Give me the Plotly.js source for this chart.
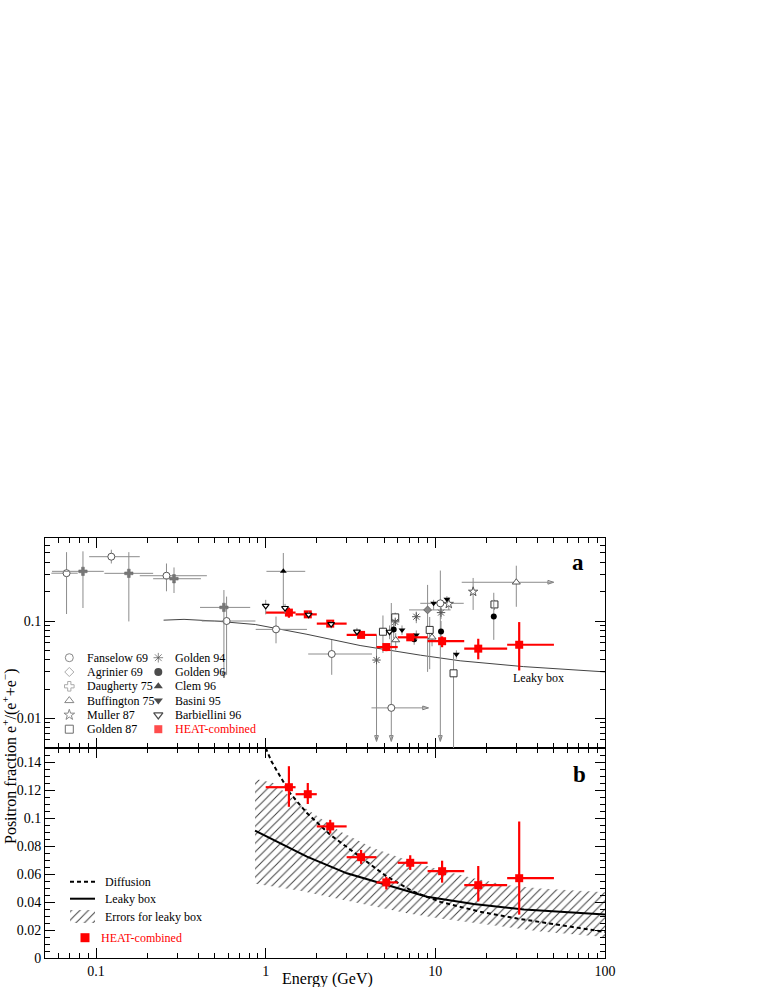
<!DOCTYPE html>
<html><head><meta charset="utf-8">
<script src="https://cdn.plot.ly/plotly-3.0.1.min.js"></script>
<style>body{margin:0;background:#fff}#chart{width:763px;height:987px}</style>
</head><body><div id="chart"></div>
<script>
// ---------------- DATA ----------------
// HEAT-combined (both panels)
const heatE   = [1.37, 1.77, 2.40, 3.65, 5.14, 7.11, 10.96, 17.9, 31.2];
const heatF   = [0.122, 0.117, 0.094, 0.072, 0.054, 0.068, 0.062, 0.052, 0.057];
const heatFhi = [0.137, 0.125, 0.0987, 0.0772, 0.058, 0.0734, 0.0695, 0.0657, 0.0975];
const heatFlo = [0.108, 0.110, 0.089, 0.0672, 0.049, 0.0629, 0.0538, 0.0404, 0.031];
const heatElo = [1.0, 1.5, 2.0, 3.0, 4.5, 6.0, 9.0, 14.8, 26.5];
const heatEhi = [1.5, 2.0, 3.0, 4.5, 6.0, 9.0, 14.8, 26.5, 50];

// Fanselow 69
const fanE   = [0.067, 0.123, 0.26, 0.588, 1.15, 2.45, 5.5, 10.7];
const fanF   = [0.31, 0.458, 0.292, 0.100, 0.082, 0.0458, 0.0128, 0.152];
const fanFhi = [0.51, 0.54, 0.39, 0.178, 0.111, 0.064, 0.153, 0.33];
const fanFlo = [0.118, 0.39, 0.202, 0.028, 0.059, 0.028, 0.0058, 0.0058];
const fanElo = [0.0545, 0.091, 0.181, 0.42, 0.873, 1.78, 4.2, 8.15];
const fanEhi = [0.078, 0.181, 0.45, 0.87, 1.75, 4.23, 9.1, 14.7];
// Agrinier 69
const agrE = [9.0], agrF = [0.13], agrFhi = [0.235], agrFlo = [0.03], agrElo = [7.0], agrEhi = [12.3];
// Daugherty 75
const dauE   = [0.0837, 0.156, 0.288, 0.567];
const dauF   = [0.324, 0.309, 0.272, 0.138];
const dauFhi = [0.52, 0.51, 0.355, 0.208];
const dauFlo = [0.136, 0.099, 0.194, 0.026];
const dauElo = [0.055, 0.112, 0.217, 0.41];
const dauEhi = [0.111, 0.217, 0.415, 0.81];
// Buffington 75
const bufE   = [5.84, 9.56, 30];
const bufF   = [0.0638, 0.068, 0.25];
const bufFhi = [0.075, 0.078, 0.37];
const bufFlo = [0.05, 0.055, 0.14];
const bufElo = [5.84, 9.56, 14.3];
const bufEhi = [5.84, 9.56, 49.8];
// Muller 87
const mulE = [12.0, 16.7], mulF = [0.15, 0.2], mulFhi = [0.175, 0.277], mulFlo = [0.13, 0.13];
// Golden 87
const g87E   = [4.91, 5.8, 9.26, 12.8, 22.3];
const g87F   = [0.0776, 0.109, 0.081, 0.029, 0.148];
const g87Fhi = [0.114, 0.122, 0.11, 0.047, 0.165];
const g87Flo = [0.047, 0.095, 0.032, 0.003, 0.13];
// Golden 94
const g94E   = [4.5, 5.8, 7.72, 10.8];
const g94F   = [0.0397, 0.098, 0.1107, 0.122];
const g94Fhi = [0.072, 0.105, 0.125, 0.14];
const g94Flo = [0.0058, 0.09, 0.095, 0.105];
// Golden 96
const g96E   = [5.68, 7.5, 10.8, 22.1];
const g96F   = [0.082, 0.065, 0.078, 0.111];
const g96Fhi = [0.1, 0.075, 0.1, 0.195];
const g96Flo = [0.066, 0.057, 0.06, 0.064];
// Clem 96
const clemE = [1.27], clemF = [0.324], clemFhi = [0.5], clemFlo = [0.136], clemElo = [1.01], clemEhi = [1.71];
// Basini 95
const basE   = [6.36, 7.72, 9.77, 11.7, 13.3];
const basF   = [0.081, 0.0718, 0.152, 0.167, 0.0455];
const basFhi = [0.09, 0.08, 0.165, 0.18, 0.05];
const basFlo = [0.072, 0.064, 0.13, 0.15, 0.041];
// Barbiellini 96
const barE   = [1.0, 1.30, 1.79, 2.43, 3.45, 5.37];
const barF   = [0.143, 0.136, 0.116, 0.093, 0.0777, 0.0776];
const barFhi = [0.165, 0.15, 0.125, 0.1, 0.085, 0.09];
const barFlo = [0.117, 0.12, 0.107, 0.084, 0.07, 0.065];

// arrow tips at ends of limit error bars
const downArrowE = [4.5, 5.5, 10.7, 0.567];
const downArrowF = [0.0058, 0.0058, 0.0058, 0.026];
const rightArrowE = [9.1, 49.8];
const rightArrowF = [0.0128, 0.25];

// Leaky box curve, panel a
const leakyAE = [0.25, 0.33, 0.5, 0.87, 1.75, 3.6, 8.2, 14, 33, 100];
const leakyAF = [0.102, 0.104, 0.1, 0.092, 0.073, 0.056, 0.0445, 0.039, 0.034, 0.030];
// Panel b curves
const leakyBE = [0.865, 1.11, 1.75, 3.01, 4.73, 8.92, 16.8, 33.3, 100];
const leakyBF = [0.091, 0.0844, 0.0724, 0.0605, 0.0533, 0.0437, 0.0385, 0.0347, 0.0311];
const diffE = [1.0, 1.08, 1.39, 1.75, 2.4, 3.6, 5.2, 7.45, 10.7, 18.4, 30.4, 100];
const diffF = [0.15, 0.1405, 0.1178, 0.1035, 0.088, 0.0724, 0.058, 0.0473, 0.0401, 0.033, 0.0282, 0.0186];
const bandE  = [0.865, 1.11, 1.6, 2.09, 2.75, 4.32, 6.8, 10.7, 16.8, 26.5, 41.7, 100];
const bandHi = [0.128, 0.125, 0.1095, 0.0999, 0.0903, 0.0784, 0.070, 0.0629, 0.0569, 0.052, 0.0497, 0.047];
const bandLo = [0.053, 0.051, 0.048, 0.045, 0.042, 0.0366, 0.032, 0.0282, 0.025, 0.0222, 0.019, 0.015];

// tick labels
const xTickVals = [0.1, 1, 10, 100];
const xTickText = ['0.1', '1', '10', '100'];
const yaTickVals = [0.01, 0.1];
const yaTickText = ['0.01', '0.1'];
const ybTickVals = [0, 0.02, 0.04, 0.06, 0.08, 0.1, 0.12, 0.14];
const ybTickText = ['0', '0.02', '0.04', '0.06', '0.08', '0.1', '0.12', '0.14'];

const legendA1 = ['Fanselow 69', 'Agrinier 69', 'Daugherty 75', 'Buffington 75', 'Muller 87', 'Golden 87'];
const legendA2 = ['Golden 94', 'Golden 96', 'Clem 96', 'Basini 95', 'Barbiellini 96', 'HEAT-combined'];
const legendB = ['Diffusion', 'Leaky box', 'Errors for leaky box', 'HEAT-combined'];

// ---------------- STYLE / HELPERS ----------------
const FONT = '"Liberation Serif", "Times New Roman", "DejaVu Serif", serif';
const ERRC = '#8c8c8c';
const RED = '#ff0000';
const L = 45, R = 605, T = 538, B = 958;
const PX = p => (p - L) / (R - L);
const PY = p => (B - p) / (B - T);
const sub = (a, b) => a.map((v, i) => v - b[i]);
const minorLog = (lo, hi) => { const v = []; for (let k = lo; k <= hi; k++) for (let m = 2; m <= 9; m++) v.push(m * Math.pow(10, k)); return v; };

const STY = {
  fan: {symbol: 'circle', size: 7, color: '#fff', line: {color: '#555', width: 1}},
  agr: {symbol: 'diamond', size: 6, color: '#888', line: {color: '#666', width: 1}},
  dau: {symbol: 'cross', size: 7, color: '#777', line: {color: '#666', width: 0.5}},
  buf: {symbol: 'triangle-up', size: 7, color: '#fff', line: {color: '#555', width: 1}},
  mul: {symbol: 'star', size: 7, color: '#fff', line: {color: '#555', width: 1}},
  g87: {symbol: 'square', size: 7, color: '#fff', line: {color: '#333', width: 1}},
  g94: {symbol: 'asterisk-open', size: 7, color: '#555', line: {color: '#555', width: 1}},
  g96: {symbol: 'circle', size: 6, color: '#000', line: {color: '#000', width: 0}},
  clem: {symbol: 'triangle-up', size: 6, color: '#000', line: {color: '#000', width: 0}},
  bas: {symbol: 'triangle-down', size: 6, color: '#000', line: {color: '#000', width: 0}},
  bar: {symbol: 'triangle-down', size: 6, color: '#fff', line: {color: '#000', width: 1.2}},
  heat: {symbol: 'square', size: 8, color: RED, line: {color: RED, width: 0}}
};

function expTrace(E, F, Fhi, Flo, Elo, Ehi, mk) {
  const xl = Elo || E, xh = Ehi || E;
  return {
    type: 'scatter', mode: 'markers', x: E, y: F, xaxis: 'x2', yaxis: 'y2', hoverinfo: 'skip',
    error_y: {type: 'data', symmetric: false, array: sub(Fhi, F), arrayminus: sub(F, Flo), color: ERRC, thickness: 1, width: 0},
    error_x: {type: 'data', symmetric: false, array: sub(xh, E), arrayminus: sub(E, xl), color: ERRC, thickness: 1, width: 0},
    marker: mk
  };
}

const traces = [];
// panel a
traces.push({type: 'scatter', mode: 'lines', x: leakyAE, y: leakyAF, xaxis: 'x2', yaxis: 'y2', line: {color: '#444', width: 1}, hoverinfo: 'skip'});
// arrowheads for limits
traces.push({type: 'scatter', mode: 'markers', x: downArrowE, y: downArrowF, xaxis: 'x2', yaxis: 'y2', hoverinfo: 'skip', cliponaxis: false,
  marker: {symbol: 'arrow-open', angle: 180, size: 6, color: '#777', line: {color: '#777', width: 1}}});
traces.push({type: 'scatter', mode: 'markers', x: rightArrowE, y: rightArrowF, xaxis: 'x2', yaxis: 'y2', hoverinfo: 'skip', cliponaxis: false,
  marker: {symbol: 'arrow-open', angle: 90, size: 6, color: '#777', line: {color: '#777', width: 1}}});
traces.push(expTrace(fanE, fanF, fanFhi, fanFlo, fanElo, fanEhi, STY.fan));
traces.push(expTrace(agrE, agrF, agrFhi, agrFlo, agrElo, agrEhi, STY.agr));
traces.push(expTrace(dauE, dauF, dauFhi, dauFlo, dauElo, dauEhi, STY.dau));
traces.push(expTrace(bufE, bufF, bufFhi, bufFlo, bufElo, bufEhi, STY.buf));
traces.push(expTrace(mulE, mulF, mulFhi, mulFlo, null, null, STY.mul));
traces.push(expTrace(g87E, g87F, g87Fhi, g87Flo, null, null, STY.g87));
traces.push(expTrace(g94E, g94F, g94Fhi, g94Flo, null, null, STY.g94));
traces.push(expTrace(g96E, g96F, g96Fhi, g96Flo, null, null, STY.g96));
traces.push(expTrace(clemE, clemF, clemFhi, clemFlo, clemElo, clemEhi, STY.clem));
traces.push(expTrace(basE, basF, basFhi, basFlo, null, null, STY.bas));
function heatTrace(xa, ya, th) {
  return {type: 'scatter', mode: 'markers', x: heatE, y: heatF, xaxis: xa, yaxis: ya, hoverinfo: 'skip',
    error_y: {type: 'data', symmetric: false, array: sub(heatFhi, heatF), arrayminus: sub(heatF, heatFlo), color: RED, thickness: th, width: 0},
    error_x: {type: 'data', symmetric: false, array: sub(heatEhi, heatE), arrayminus: sub(heatE, heatElo), color: RED, thickness: th, width: 0},
    marker: STY.heat};
}
traces.push(heatTrace('x2', 'y2', 2.2));
traces.push(expTrace(barE, barF, barFhi, barFlo, null, null, STY.bar));

// panel b
const HATCH = {shape: '/', fgcolor: '#444', bgcolor: 'rgba(255,255,255,0)', size: 6, solidity: 0.17};
traces.push({type: 'scatter', mode: 'lines', x: bandE, y: bandLo, xaxis: 'x', yaxis: 'y', line: {width: 0, color: 'rgba(0,0,0,0)'}, hoverinfo: 'skip'});
traces.push({type: 'scatter', mode: 'lines', x: bandE, y: bandHi, xaxis: 'x', yaxis: 'y', line: {width: 0, color: 'rgba(0,0,0,0)'},
  fill: 'tonexty', fillcolor: 'rgba(255,255,255,0)', fillpattern: HATCH, hoverinfo: 'skip'});
traces.push({type: 'scatter', mode: 'lines', x: leakyBE, y: leakyBF, xaxis: 'x', yaxis: 'y', line: {color: '#000', width: 2}, hoverinfo: 'skip'});
traces.push({type: 'scatter', mode: 'lines', x: diffE, y: diffF, xaxis: 'x', yaxis: 'y', line: {color: '#000', width: 2, dash: '4px,3px'}, hoverinfo: 'skip'});
traces.push(heatTrace('x', 'y', 2.2));

// legend (overlay axes spanning whole plot area)
const rowA = i => PY(657.7 + 14.3 * i);
const legKeys1 = ['fan', 'agr', 'dau', 'buf', 'mul', 'g87'];
const legKeys2 = ['g94', 'g96', 'clem', 'bas', 'bar', 'heat'];
const legX = [], legY = [], legSym = [], legCol = [], legLC = [], legLW = [], legSz = [];
[[legKeys1, PX(69.3)], [legKeys2, PX(158.3)]].forEach(([keys, xx]) => {
  keys.forEach((k, i) => {
    const s = STY[k];
    legX.push(xx); legY.push(rowA(i));
    legSym.push(s.symbol);
    legCol.push(k === 'dau' || k === 'agr' ? '#fff' : s.color);
    legLC.push(k === 'dau' || k === 'agr' ? '#888' : s.line.color);
    legLW.push(k === 'dau' || k === 'agr' ? 1 : s.line.width);
    legSz.push(k === 'agr' ? 7 : 8);
  });
});
traces.push({type: 'scatter', mode: 'markers', x: legX, y: legY, xaxis: 'x3', yaxis: 'y3', hoverinfo: 'skip', cliponaxis: false,
  marker: {symbol: legSym, color: legCol, size: legSz, line: {color: legLC, width: legLW}}});
const rowB = [881.7, 898.7, 916.7, 937.7].map(PY);
traces.push({type: 'scatter', mode: 'lines', x: [PX(70), PX(95)], y: [rowB[0], rowB[0]], xaxis: 'x3', yaxis: 'y3', line: {color: '#000', width: 2, dash: '4px,3px'}, hoverinfo: 'skip'});
traces.push({type: 'scatter', mode: 'lines', x: [PX(70), PX(95)], y: [rowB[1], rowB[1]], xaxis: 'x3', yaxis: 'y3', line: {color: '#000', width: 2}, hoverinfo: 'skip'});
traces.push({type: 'scatter', mode: 'lines', x: [PX(70), PX(95), PX(95), PX(70), PX(70)], y: [PY(923), PY(923), PY(910), PY(910), PY(923)], xaxis: 'x3', yaxis: 'y3',
  line: {width: 0, color: 'rgba(0,0,0,0)'}, fill: 'toself', fillcolor: 'rgba(255,255,255,0)', fillpattern: HATCH, hoverinfo: 'skip'});
traces.push({type: 'scatter', mode: 'markers', x: [PX(85)], y: [rowB[3]], xaxis: 'x3', yaxis: 'y3', marker: {symbol: 'square', size: 9, color: RED}, hoverinfo: 'skip', cliponaxis: false});

// annotations
const ann = [];
const txt = (x, y, t, o) => Object.assign({xref: 'paper', yref: 'paper', x: x, y: y, text: t, showarrow: false, xanchor: 'left', yanchor: 'middle', font: {family: FONT, size: 12, color: '#000'}}, o || {});
legendA1.forEach((t, i) => ann.push(txt(PX(85), rowA(i), t)));
legendA2.forEach((t, i) => ann.push(txt(PX(173.3), rowA(i), t, i === 5 ? {font: {family: FONT, size: 12, color: RED}} : {})));
ann.push(txt(PX(102.7), rowB[0], legendB[0]));
ann.push(txt(PX(102.7), rowB[1], legendB[1]));
ann.push(txt(PX(102.7), rowB[2], legendB[2]));
ann.push(txt(PX(99.3), rowB[3], legendB[3], {font: {family: FONT, size: 12, color: RED}}));
ann.push(txt(PX(538), PY(678), 'Leaky box', {xanchor: 'center'}));
ann.push(txt(PX(578), PY(562), '<b>a</b>', {xanchor: 'center', font: {family: FONT, size: 23, color: '#000'}}));
ann.push(txt(PX(579), PY(774), '<b>b</b>', {xanchor: 'center', font: {family: FONT, size: 23, color: '#000'}}));
ann.push(txt(PX(327), PY(979), 'Energy (GeV)', {xanchor: 'center', font: {family: FONT, size: 16, color: '#000'}}));
ann.push(txt(PX(9.5), PY(756.5), 'Positron fraction e<sup>+</sup>/(e<sup>+</sup>+e<sup>−</sup>)', {xanchor: 'center', textangle: -90, font: {family: FONT, size: 16, color: '#000'}}));

const xRange = [Math.log10(0.05), 2];
const axCommon = {showline: true, linecolor: '#000', linewidth: 1, mirror: 'ticks', ticks: 'inside', ticklen: 10, tickwidth: 1, tickcolor: '#000',
  showgrid: false, zeroline: false, tickfont: {family: FONT, size: 14, color: '#000'}};
const layout = {
  width: 763, height: 987,
  margin: {l: L, r: 763 - R, t: T, b: 987 - B},
  paper_bgcolor: '#fff', plot_bgcolor: 'rgba(0,0,0,0)',
  showlegend: false,
  font: {family: FONT, size: 14, color: '#000'},
  xaxis: Object.assign({}, axCommon, {type: 'log', range: xRange, domain: [0, 1], anchor: 'y', tickmode: 'array', tickvals: xTickVals, ticktext: xTickText,
    minor: {tickmode: 'array', tickvals: minorLog(-2, 1), ticks: 'inside', ticklen: 5, tickcolor: '#000'}}),
  yaxis: Object.assign({}, axCommon, {range: [0, 0.15], domain: [0, 0.5], anchor: 'x', tickmode: 'array', tickvals: ybTickVals, ticktext: ybTickText,
    minor: {dtick: 0.005, tick0: 0, ticks: 'inside', ticklen: 5, tickcolor: '#000'}}),
  xaxis2: Object.assign({}, axCommon, {type: 'log', range: xRange, domain: [0, 1], anchor: 'y2', showticklabels: false, tickmode: 'array', tickvals: xTickVals,
    minor: {tickmode: 'array', tickvals: minorLog(-2, 1), ticks: 'inside', ticklen: 5, tickcolor: '#000'}}),
  yaxis2: Object.assign({}, axCommon, {type: 'log', range: [-2.305, -0.147], domain: [0.5, 1], anchor: 'x2', tickmode: 'array', tickvals: yaTickVals, ticktext: yaTickText,
    minor: {tickmode: 'array', tickvals: minorLog(-3, -1), ticks: 'inside', ticklen: 5, tickcolor: '#000'}}),
  xaxis3: {domain: [0, 1], range: [0, 1], anchor: 'y3', visible: false, fixedrange: true},
  yaxis3: {domain: [0, 1], range: [0, 1], anchor: 'x3', visible: false, fixedrange: true},
  annotations: ann
};
Plotly.newPlot('chart', traces, layout, {displayModeBar: false, staticPlot: true});
</script></body></html>
